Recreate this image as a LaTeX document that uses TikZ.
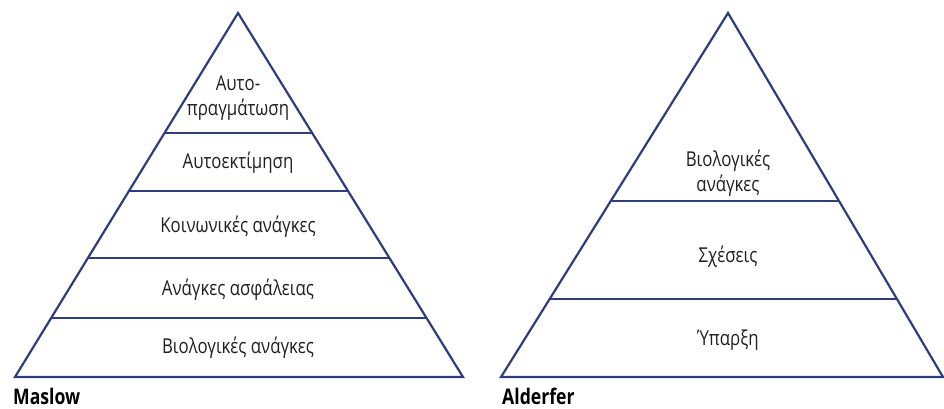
\documentclass[tikz,border=0pt]{standalone}
\usepackage{fontspec}
\usetikzlibrary{calc}
\setmainfont{Open Sans}[FakeStretch=0.82]
\begin{document}
\begin{tikzpicture}[x=1pt,y=-1pt,
  edge/.style={draw=pyrblue,line width=2.2pt,line join=miter},
  tier/.style={draw=pyrblue,line width=2pt},
  lbl/.style={font=\fontsize{20.5}{25}\selectfont,text=black!88,align=center,inner sep=0pt},
  title/.style={font=\fontsize{21.5}{25}\selectfont\bfseries,text=black,anchor=base west,inner sep=0pt}]
\definecolor{pyrblue}{HTML}{2E3D7C}
\useasboundingbox (0,0) rectangle (944,408);
% Maslow pyramid
\coordinate (mA) at (238,13);
\coordinate (mL) at (15,377);
\coordinate (mR) at (463,377);
\draw[edge] (mA) -- (mL) -- (mR) -- cycle;
\foreach \n/\yy in {1/133,2/191,3/258,4/318}{
  \coordinate (ml\n) at ($(mA)!{(\yy-13)/364}!(mL)$);
  \coordinate (mr\n) at ($(mA)!{(\yy-13)/364}!(mR)$);
  \draw[tier] (ml\n) -- (mr\n);
}
\node[lbl] (m1) at (238,98) {Αυτο-\\πραγμάτωση};
\node[lbl] (m2) at (238,163) {Αυτοεκτίμηση};
\node[lbl] (m3) at (238,227) {Κοινωνικές ανάγκες};
\node[lbl] (m4) at (238,290) {Ανάγκες ασφάλειας};
\node[lbl] (m5) at (238,348) {Βιολογικές ανάγκες};
\node[title] (mt) at (13,404.5) {Maslow};
% Alderfer pyramid
\coordinate (aA) at (728,13);
\coordinate (aL) at (501,377);
\coordinate (aR) at (943,377);
\draw[edge] (aA) -- (aL) -- (aR) -- cycle;
\foreach \n/\yy in {1/201,2/299}{
  \coordinate (al\n) at ($(aA)!{(\yy-13)/364}!(aL)$);
  \coordinate (ar\n) at ($(aA)!{(\yy-13)/364}!(aR)$);
  \draw[tier] (al\n) -- (ar\n);
}
\node[lbl] (a1) at (728,173) {Βιολογικές\\ανάγκες};
\node[lbl] (a2) at (728,257) {Σχέσεις};
\node[lbl] (a3) at (728,340) {Ύπαρξη};
\node[title] (at) at (502,404.5) {Alderfer};
\end{tikzpicture}
\end{document}
